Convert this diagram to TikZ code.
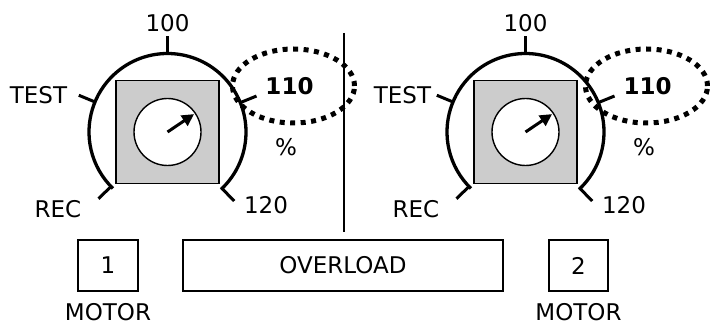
\documentclass[tikz,border=0pt]{standalone}
\usepackage{fontspec}
\setmainfont{DejaVu Sans}
\usetikzlibrary{calc, arrows.meta, positioning}

\begin{document}
\begin{tikzpicture}[x=1pt, y=1pt, font=\fontsize{23}{27}\selectfont,
		dialtick/.style={line width=3pt},
		ring/.style={line width=5pt, dash pattern=on 5pt off 5.5pt},
		needle/.style={line width=3pt, -{Triangle[length=12pt, width=12pt]}},
		panel/.style={draw, line width=1.5pt, minimum height=51pt, inner sep=0pt}]
	\useasboundingbox (0,0) rectangle (710,327);
	% two dials, left and right
	\foreach \cx/\d/\tx/\ex in {
		167.5/1/-129/126,
		525.5/2/-123/121
	}{
		\coordinate (c\d) at (\cx,195);
		\draw[line width=3.3pt] (c\d) ++(-47:78.5) arc[start angle=-47, end angle=226, radius=78.5];
		\foreach \a in {90, 157.5, 22, 224, -46}
		{\draw[dialtick] (c\d) ++(\a:78) -- ++(\a:18);}
		\node[draw, line width=1.4pt, fill=gray!40, minimum size=103pt, inner sep=0pt] (sq\d) at (c\d) {};
		\node[circle, draw, line width=1.4pt, fill=white, minimum size=67pt, inner sep=0pt] (knob\d) at (c\d) {};
		\draw[needle] (c\d) -- ++(34:32);
		\draw[ring] (c\d) ++(\ex,46) ellipse[x radius=61, y radius=37];
		\node (top\d) at ($(c\d)+(0,108.5)$) {100};
		\node (test\d) at ($(c\d)+(\tx,37)$) {TEST};
		\node (ol\d) at ($(c\d)+(122,46)$) {\textbf{110}};
		\node (pct\d) at ($(c\d)+(118.5,-15.5)$) {\%};
		\node (rec\d) at ($(c\d)+(-109.5,-77.5)$) {REC};
		\node (max\d) at ($(c\d)+(98.5,-73)$) {120};
	}
	\draw[line width=1.8pt] (344,294) -- (344,95);
	% bottom row
	\node[panel, minimum width=60pt] (m1) at (108,61.5) {1};
	\node[panel, minimum width=320pt] (over) at (343,61.5) {OVERLOAD};
	\node[panel, minimum width=59pt] (m2) at (578.5,61.5) {2};
	\node[inner sep=0pt, below=11pt of m1] (motor1) {MOTOR};
	\node[inner sep=0pt, below=11pt of m2] (motor2) {MOTOR};
\end{tikzpicture}
\end{document}
